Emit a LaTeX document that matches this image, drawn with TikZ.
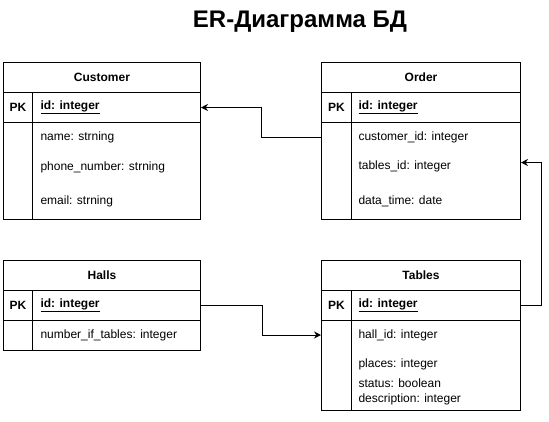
\documentclass[tikz,border=0pt]{standalone}
\usepackage{fontspec}
\setmainfont{Liberation Sans}
\usepackage{tikz}
\usetikzlibrary{arrows.meta, positioning}

\begin{document}
\begin{tikzpicture}[x=1pt, y=-1pt, line width=1pt, cell/.style={rectangle, draw, inner sep=0pt, anchor=north west, font=\fontsize{12}{14}\selectfont}, head/.style={cell, font=\fontsize{12}{14}\selectfont\bfseries}, field/.style={anchor=west, inner sep=0pt, font=\fontsize{12}{14}\selectfont}, key/.style={field, font=\fontsize{12}{14}\selectfont\bfseries}, arrow/.style={-{Stealth[length=7pt, width=7pt]}}]
\useasboundingbox (0,0) rectangle (549,421);
\node[font=\fontsize{24}{28}\selectfont\bfseries, anchor=base] (title) at (300,27) {ER-Диаграмма БД};
\node[head, minimum width=197pt, minimum height=30pt] (cust) at (3,62) {Customer};
\node[head, minimum width=29pt, minimum height=30pt] (custpk) at (3,92) {PK};
\node[cell, minimum width=168pt, minimum height=30pt] (custid) at (32,92) {};
\node[cell, minimum width=29pt, minimum height=97pt] (custfk) at (3,122) {};
\node[cell, minimum width=168pt, minimum height=97pt] (custattr) at (32,122) {};
\node[key, right=8pt of custid.west] (custidt) {\underline{id: integer}};
\node[field] (custname) at (40,137) {name: strning};
\node[field] (custphone) at (40,167) {phone\_number: strning};
\node[field] (custmail) at (40,201) {email: strning};
\node[head, minimum width=199pt, minimum height=30pt] (ord) at (321,62) {Order};
\node[head, minimum width=30pt, minimum height=30pt] (ordpk) at (321,92) {PK};
\node[cell, minimum width=169pt, minimum height=30pt] (ordid) at (351,92) {};
\node[cell, minimum width=30pt, minimum height=97pt] (ordfk) at (321,122) {};
\node[cell, minimum width=169pt, minimum height=97pt] (ordattr) at (351,122) {};
\node[key, right=7pt of ordid.west] (ordidt) {\underline{id: integer}};
\node[field] (ordcust) at (358,137) {customer\_id: integer};
\node[field] (ordtab) at (358,166) {tables\_id: integer};
\node[field] (orddate) at (358,201) {data\_time: date};
\node[head, minimum width=197pt, minimum height=30pt] (hall) at (3,260) {Halls};
\node[head, minimum width=29pt, minimum height=30pt] (hallpk) at (3,290) {PK};
\node[cell, minimum width=168pt, minimum height=30pt] (hallid) at (32,290) {};
\node[cell, minimum width=29pt, minimum height=30pt] (hallfk) at (3,320) {};
\node[cell, minimum width=168pt, minimum height=30pt] (hallattr) at (32,320) {};
\node[key, right=8pt of hallid.west] (hallidt) {\underline{id: integer}};
\node[field] (hallnum) at (40,335) {number\_if\_tables: integer};
\node[head, minimum width=199pt, minimum height=30pt] (tab) at (321,260) {Tables};
\node[head, minimum width=30pt, minimum height=30pt] (tabpk) at (321,290) {PK};
\node[cell, minimum width=169pt, minimum height=30pt] (tabid) at (351,290) {};
\node[cell, minimum width=30pt, minimum height=90pt] (tabfk) at (321,320) {};
\node[cell, minimum width=169pt, minimum height=90pt] (tabattr) at (351,320) {};
\node[key, right=7pt of tabid.west] (tabidt) {\underline{id: integer}};
\node[field] (tabhall) at (358,335) {hall\_id: integer};
\node[field] (tabplace) at (358,364) {places: integer};
\node[field] (tabstat) at (358,383) {status: boolean};
\node[field] (tabdesc) at (358,399) {description: integer};
\draw[arrow] (ordfk.west |- ordcust) -- ++(-60,0) |- (custid.east);
\draw[arrow] (tabid.east) -- ++(20,0) |- ([yshift=8.5pt]ordattr.east);
\draw[arrow] (hallid.east) -- ++(61,0) |- (tabfk.west |- tabhall);
\end{tikzpicture}
\end{document}
